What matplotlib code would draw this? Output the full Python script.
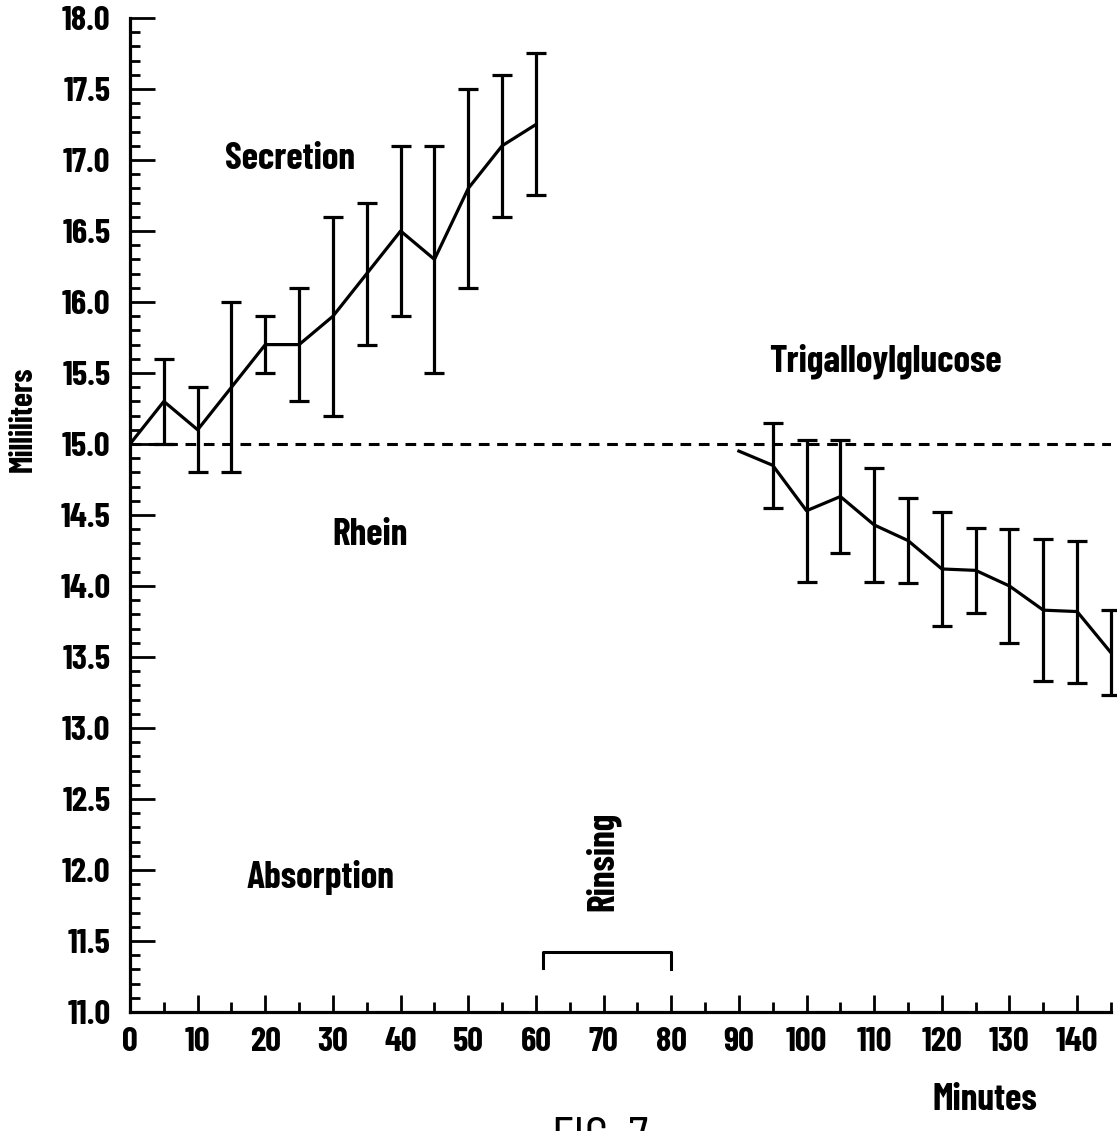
import numpy as np
import matplotlib
matplotlib.use("Agg")
import matplotlib.pyplot as plt
from matplotlib.ticker import MultipleLocator

# narrow DIN-like lettering as in the scanned figure
plt.rcParams['font.family'] = ['Barlow Condensed', 'DejaVu Sans']
plt.rcParams['font.weight'] = 'bold'
plt.rcParams['axes.labelweight'] = 'bold'

# secretion phase (Rhein), every 5 min
sec_t = [0, 5, 10, 15, 20, 25, 30, 35, 40, 45, 50, 55, 60]
sec_mean = [15.0, 15.3, 15.1, 15.4, 15.7, 15.7, 15.9, 16.2, 16.5, 16.3, 16.8, 17.1, 17.25]
sec_err = [0.0, 0.3, 0.3, 0.6, 0.2, 0.4, 0.7, 0.5, 0.6, 0.8, 0.7, 0.5, 0.5]

# absorption phase (Trigalloylglucose)
tri_t = [90, 95, 100, 105, 110, 115, 120, 125, 130, 135, 140, 145]
tri_mean = [14.95, 14.85, 14.53, 14.63, 14.43, 14.32, 14.12, 14.11, 14.0, 13.83, 13.82, 13.53]
tri_err = [0.0, 0.3, 0.5, 0.4, 0.4, 0.3, 0.4, 0.3, 0.4, 0.5, 0.5, 0.3]

baseline = 15.0
rinse = [61, 80]
x_ticks = list(range(0, 150, 10))
y_ticks = np.arange(11.0, 18.01, 0.5)

fig = plt.figure(figsize=(11.17, 11.31), dpi=100)
ax = fig.add_axes([0.1164, 0.1052, 0.8782, 0.8789])

lw = 2.3
ax.plot([0, 145], [baseline, baseline], color='black', lw=2.2, dashes=(3.5, 2.5))

ax.plot(sec_t, sec_mean, color='black', lw=lw)
ax.errorbar(sec_t[1:], sec_mean[1:], yerr=sec_err[1:], fmt='none', ecolor='black',
            elinewidth=lw, capsize=7, capthick=lw)

ax.plot(tri_t, tri_mean, color='black', lw=lw, clip_on=False)
ax.errorbar(tri_t[1:], tri_mean[1:], yerr=tri_err[1:], fmt='none', ecolor='black',
            elinewidth=lw, capsize=7, capthick=lw, clip_on=False)

# rinsing bracket
ax.plot([rinse[0], rinse[0], rinse[1], rinse[1]], [11.31, 11.42, 11.42, 11.30],
        color='black', lw=2.2)

ax.set_xlim(0, 145)
ax.set_ylim(11.0, 18.0)
ax.set_xticks(x_ticks)
ax.xaxis.set_minor_locator(MultipleLocator(5))
ax.set_yticks(y_ticks)
ax.set_yticklabels([f"{v:.1f}" for v in y_ticks])
ax.yaxis.set_minor_locator(MultipleLocator(0.1))

ax.tick_params(axis='both', which='major', direction='in', width=2, labelsize=25)
ax.tick_params(axis='y', which='major', length=18, pad=14)
ax.tick_params(axis='x', which='major', length=12, pad=11)
ax.tick_params(axis='both', which='minor', direction='in', width=2, length=7)
for side in ['top', 'right']:
    ax.spines[side].set_visible(False)
for side in ['left', 'bottom']:
    ax.spines[side].set_linewidth(2.3)

ax.set_ylabel("Milliliters", fontsize=23, fontweight='bold')
ax.yaxis.set_label_coords(-0.094, 0.596)

ax.text(23.6, 17.01, "Secretion", fontsize=27, ha='center', va='center')
ax.text(35.5, 14.36, "Rhein", fontsize=27, ha='center', va='center')
ax.text(28.1, 11.95, "Absorption", fontsize=27, ha='center', va='center')
ax.text(111.7, 15.58, "Trigalloylglucose", fontsize=27, ha='center', va='center')
ax.text(69.9, 12.06, "Rinsing", fontsize=27, ha='center', va='center', rotation=90)

fig.text(985 / 1117, 1 - 1100 / 1131, "Minutes", fontsize=27, ha='center', va='center')
fig.text(600 / 1117, 1 - 1117 / 1131, "FIG. 7", fontsize=38, ha='center', va='top',
         fontweight='normal')

fig.savefig("out.png", dpi=100)
